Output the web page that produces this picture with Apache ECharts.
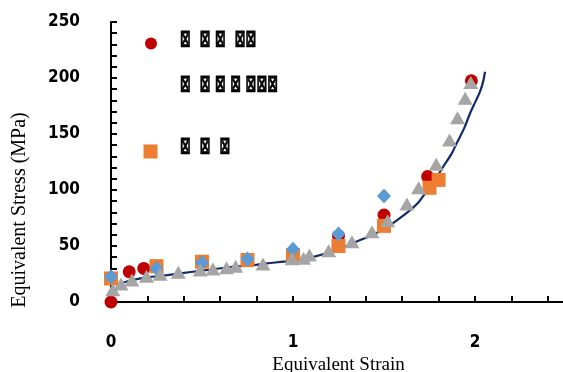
<!DOCTYPE html>
<html>
<head>
<meta charset="utf-8">
<script src="https://cdn.jsdelivr.net/npm/echarts@6/dist/echarts.min.js"></script>
<style>
  html, body { margin: 0; padding: 0; background: #fff; }
  #chart { width: 563px; height: 372px; }
</style>
</head>
<body>
<div id="chart"></div>
<script>
// legend labels (the source shows them as missing-glyph boxes)
const seriesNames = ['⊠  ⊠ ⊠  ⊠⊠', '⊠  ⊠ ⊠ ⊠ ⊠⊠⊠', '⊠  ⊠  ⊠', 'series4', 'series5'];

// [strain, stress MPa]
const redPoints = [[0, 0], [0.1, 27], [0.18, 30], [1.25, 59], [1.5, 77.7], [1.74, 112], [1.98, 197.5]];
const orangePoints = [[0, 21], [0.25, 32], [0.5, 36], [0.75, 37.5], [1.0, 42], [1.25, 50], [1.5, 68], [1.75, 102], [1.8, 109]];
const bluePoints = [[0, 22.5], [0.25, 30], [0.5, 35], [0.75, 38.4], [1.0, 47], [1.25, 60.7], [1.5, 94.6]];
const grayPoints = [
  [0.01, 11], [0.055, 16], [0.115, 19.6], [0.195, 23], [0.27, 24.7], [0.37, 26.5], [0.49, 28.6],
  [0.56, 29.5], [0.635, 30.6], [0.685, 32], [0.835, 33.9], [0.995, 38.7], [1.058, 39], [1.09, 42],
  [1.196, 45.8], [1.324, 53.8], [1.434, 62.8], [1.52, 72.6], [1.626, 87.5], [1.69, 102], [1.787, 123],
  [1.86, 144.6], [1.904, 164.6], [1.946, 182], [1.977, 196]
];
const curvePoints = [
  [0.03, 15], [0.1, 19], [0.2, 22], [0.31, 24], [0.45, 27], [0.55, 29], [0.67, 31.5], [0.76, 32.5],
  [0.857, 34.5], [0.95, 36], [1.02, 37.5], [1.08, 39], [1.15, 42], [1.25, 47], [1.35, 54], [1.44, 60],
  [1.518, 67], [1.58, 74], [1.644, 82], [1.69, 89], [1.726, 97], [1.78, 109], [1.826, 121], [1.87, 132],
  [1.9, 142], [1.94, 155], [1.973, 168.5], [2.0, 178], [2.028, 188], [2.045, 197], [2.055, 205.6]
];

const chart = echarts.init(document.getElementById('chart'));

const tickFont = { fontFamily: 'DejaVu Sans Condensed', fontWeight: 'bold', fontSize: 17, color: '#000' };
const isWhole = v => Math.abs(v - Math.round(v)) < 1e-6;

// legend label text, squeezed horizontally like the boxes in the source
const legendLabel = (text, y) => ({
  type: 'text', x: 180, y: y, scaleX: 0.56,
  style: {
    text: text, fontFamily: 'DejaVu Sans', fontWeight: 'bold', fontSize: 23, fill: '#000',
    stroke: '#000', lineWidth: 0.8,
    align: 'left', verticalAlign: 'middle'
  }
});

chart.setOption({
  backgroundColor: '#fff',
  animation: false,
  grid: { left: 111, top: 22, width: 455, height: 280, outerBoundsMode: 'none' },
  legend: [
    {
      data: [seriesNames[0]], left: 145, top: 37.5, padding: 0, icon: 'circle', itemWidth: 12, itemHeight: 12,
      formatter: () => ''
    },
    {
      data: [seriesNames[2]], left: 143.5, top: 144.5, padding: 0, icon: 'rect', itemWidth: 14, itemHeight: 14,
      formatter: () => ''
    }
  ],
  xAxis: {
    type: 'value', min: 0, max: 2.5, interval: 0.2,
    name: 'Equivalent Strain', nameLocation: 'middle', nameGap: 46,
    nameTextStyle: { fontFamily: 'Liberation Serif', fontSize: 19, color: '#000' },
    axisLine: { show: true, lineStyle: { color: '#000', width: 2 } },
    axisTick: { show: true, inside: true, length: 6, lineStyle: { color: '#000', width: 2 } },
    axisLabel: Object.assign({ margin: 32, formatter: v => isWhole(v) ? String(Math.round(v)) : '' }, tickFont),
    splitLine: { show: false }
  },
  yAxis: {
    type: 'value', min: 0, max: 250, interval: 10,
    axisLine: { show: true, lineStyle: { color: '#000', width: 2 } },
    axisTick: { show: true, inside: true, length: 6, lineStyle: { color: '#000', width: 2 } },
    axisLabel: Object.assign({ margin: 31, formatter: v => v % 50 === 0 ? String(v) : '' }, tickFont),
    splitLine: { show: false }
  },
  graphic: [
    {
      type: 'text', x: 20, y: 210, rotation: Math.PI / 2,
      style: {
        text: 'Equivalent Stress (MPa)', fontFamily: 'Liberation Serif', fontSize: 20, fill: '#000',
        align: 'center', verticalAlign: 'middle'
      }
    },
    legendLabel(seriesNames[0], 40),
    legendLabel(seriesNames[1], 85),
    legendLabel(seriesNames[2], 147.5)
  ],
  series: [
    {
      name: seriesNames[1], type: 'line', data: curvePoints, showSymbol: false, smooth: 0.3,
      lineStyle: { color: '#112b6b', width: 2.2 }, itemStyle: { color: '#112b6b' }, z: 2
    },
    {
      name: seriesNames[0], type: 'scatter', data: redPoints, symbol: 'circle', symbolSize: 13,
      itemStyle: { color: '#c00000', opacity: 1 }, z: 3
    },
    {
      name: seriesNames[2], type: 'scatter', data: orangePoints, symbol: 'rect', symbolSize: 14,
      itemStyle: { color: '#ed7d31', opacity: 1 }, z: 4
    },
    {
      name: seriesNames[3], type: 'scatter', data: bluePoints, symbol: 'diamond', symbolSize: [14, 15],
      itemStyle: { color: '#5b9bd5', opacity: 1 }, z: 5
    },
    {
      name: seriesNames[4], type: 'scatter', data: grayPoints, symbol: 'triangle', symbolSize: [15, 13],
      itemStyle: { color: '#a5a5a5', opacity: 1 }, z: 6
    }
  ]
});
</script>
</body>
</html>
